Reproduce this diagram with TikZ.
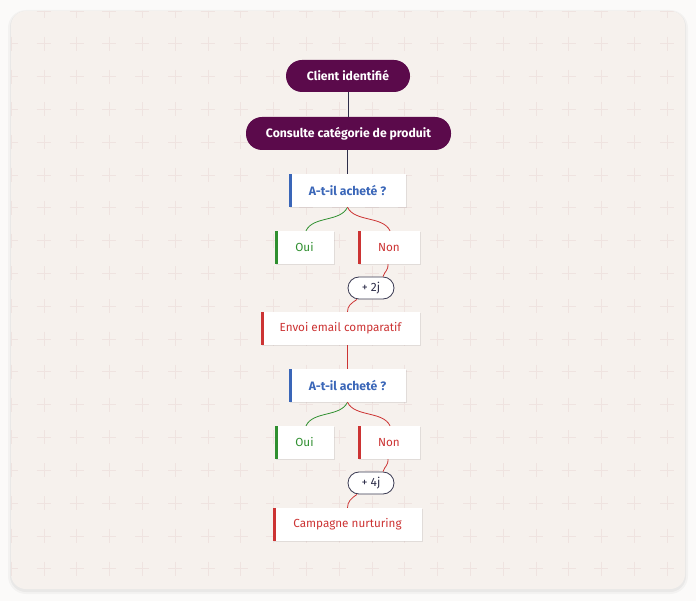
\documentclass[tikz,border=0pt]{standalone}
\usepackage{fontspec}
\setmainfont{Fira Sans}
\usetikzlibrary{shadows}
\definecolor{outerbg}{HTML}{FBFAF9}
\definecolor{panelbg}{HTML}{F6F1ED}
\definecolor{plusc}{HTML}{EFE3E0}
\definecolor{plum}{HTML}{5B0A4B}
\definecolor{navy}{HTML}{2E2E4A}
\definecolor{qblue}{HTML}{3A66B8}
\definecolor{ogreen}{HTML}{2F8F2F}
\definecolor{nred}{HTML}{CC3333}
\definecolor{pillline}{HTML}{3A3A52}
\begin{document}
\begin{tikzpicture}[x=1pt,y=-1pt,
  pill/.style={rectangle, rounded corners=16pt, fill=plum, text=white, inner sep=0pt,
    font=\bfseries\fontsize{12.2}{14}\selectfont, minimum height=32pt},
  card/.style={rectangle, fill=white, inner sep=0pt, minimum height=33pt,
    drop shadow={shadow xshift=0.6pt, shadow yshift=-1pt, opacity=0.12, fill=black!70},
    path picture={\fill[#1] (path picture bounding box.north west) rectangle ([xshift=3pt]path picture bounding box.south west);}},
  qcard/.style={card=qblue, text=qblue, font=\bfseries\fontsize{12.2}{14}\selectfont, minimum width=117pt},
  gcard/.style={card=ogreen, text=ogreen, font=\fontsize{11.7}{14}\selectfont},
  rcard/.style={card=nred, text=nred, font=\fontsize{11.7}{14}\selectfont},
  delay/.style={rectangle, rounded corners=11pt, draw=pillline, line width=0.8pt, fill=white,
    text=navy, font=\fontsize{12}{14}\selectfont, minimum width=46pt, minimum height=22pt, inner sep=0pt},
  navyline/.style={draw=navy, line width=0.8pt},
  greenline/.style={draw=ogreen, line width=0.8pt},
  redline/.style={draw=nred, line width=0.8pt}
]
\useasboundingbox (0,0) rectangle (696,601);
\fill[outerbg] (0,0) rectangle (696,601);
\fill[black, opacity=0.03, rounded corners=18pt] (8,10) rectangle (688,594);
\fill[black, opacity=0.04, rounded corners=16pt] (10,11) rectangle (686,592);
\fill[panelbg, rounded corners=15pt] (11,11) rectangle (685,589);
\begin{scope}
  \clip[rounded corners=15pt] (11,11) rectangle (685,589);
  \foreach \i in {0,...,20} {
    \foreach \j in {0,...,17} {
      \draw[plusc, line width=0.6pt] ({11+32.8*\i-7},{11+32.8*\j}) -- ++(14,0)
        ({11+32.8*\i},{11+32.8*\j-7}) -- ++(0,14);
    }
  }
\end{scope}

% nodes
\node[pill, minimum width=124pt] (n1) at (348,76) {Client identifié};
\node[pill, minimum width=205pt, minimum height=33pt] (n2) at (348.5,133.5) {Consulte catégorie de produit};
\node[qcard] (q1) at (347.5,190.5) {A-t-il acheté ?};
\node[gcard, minimum width=59pt] (oui1) at (304.5,247.5) {Oui};
\node[rcard, minimum width=62pt] (non1) at (389,247.5) {Non};
\node[delay] (d1) at (371,288) {+ 2j};
\node[rcard, minimum width=159pt] (e1) at (340.5,328.5) {Envoi email comparatif};
\node[qcard] (q2) at (347.5,385.5) {A-t-il acheté ?};
\node[gcard, minimum width=59pt] (oui2) at (304.5,442.5) {Oui};
\node[rcard, minimum width=62pt] (non2) at (389,442.5) {Non};
\node[delay] (d2) at (371,483) {+ 4j};
\node[rcard, minimum width=149pt] (c1) at (347.5,524.5) {Campagne nurturing};

% connectors
\draw[navyline] (n1.south) -- (n1.south |- n2.north);
\draw[navyline] (q1.north |- n2.south) -- (q1.north);

\draw[greenline] (q1.south) .. controls +(-7,15) and +(7,-15) .. ([xshift=1.5pt]oui1.north);
\draw[redline] (q1.south) .. controls +(7,15) and +(-7,-15) .. ([xshift=1pt]non1.north);
\draw[redline] ([xshift=-1pt]non1.south) .. controls +(0,7) and +(2,-6) .. ([xshift=12pt]d1.north);
\draw[redline] ([xshift=-14pt]d1.south) .. controls +(-6,4) and +(0,-6) .. (e1.north -| q1.south);
\draw[redline] (e1.south -| q2.north) -- (q2.north);

\draw[greenline] (q2.south) .. controls +(-7,15) and +(7,-15) .. ([xshift=1.5pt]oui2.north);
\draw[redline] (q2.south) .. controls +(7,15) and +(-7,-15) .. ([xshift=1pt]non2.north);
\draw[redline] ([xshift=-1pt]non2.south) .. controls +(0,7) and +(2,-6) .. ([xshift=12pt]d2.north);
\draw[redline] ([xshift=-14pt]d2.south) .. controls +(-6,4) and +(0,-6) .. (c1.north -| q2.south);
\end{tikzpicture}
\end{document}
